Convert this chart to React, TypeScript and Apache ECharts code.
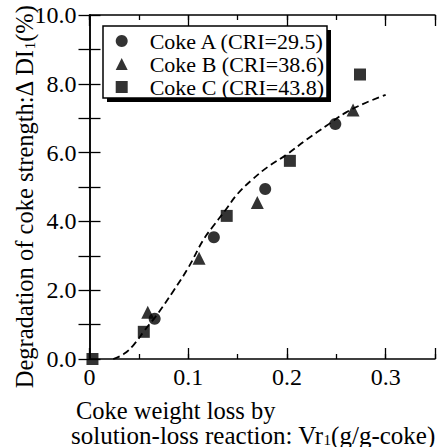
import React, { useEffect, useRef } from "react";
import * as echarts from "echarts";

const seriesNames = ["Coke A (CRI=29.5)", "Coke B (CRI=38.6)", "Coke C (CRI=43.8)"];
const cokeA = [[0.066, 1.17], [0.126, 3.54], [0.178, 4.94], [0.249, 6.83]];
const cokeB = [[0.059, 1.36], [0.111, 2.93], [0.170, 4.55], [0.267, 7.24]];
const cokeC = [[0.003, 0], [0.055, 0.79], [0.139, 4.16], [0.203, 5.76], [0.274, 8.27]];
const trendX = [0.024, 0.035, 0.045, 0.056, 0.068, 0.085, 0.1, 0.115, 0.125, 0.137, 0.15, 0.165, 0.18, 0.2, 0.22, 0.24, 0.26, 0.28, 0.3];
const trendY = [0, 0.15, 0.42, 0.84, 1.27, 1.98, 2.65, 3.45, 3.85, 4.3, 4.8, 5.22, 5.57, 5.95, 6.38, 6.78, 7.17, 7.45, 7.68];

const FONT = "'Liberation Serif', 'DejaVu Serif', serif";

export default function App() {
  const ref = useRef<HTMLDivElement>(null);
  useEffect(() => {
    if (!ref.current) return;
    const chart = echarts.init(ref.current, null, { renderer: "svg" });
    const axisLine = { show: true, lineStyle: { color: "#000", width: 1.5 } };
    const tickStyle = { color: "#000", width: 1.3 };
    const xBase = { type: "value", min: 0, max: 0.35, splitLine: { show: false }, gridIndex: 0 };
    const yBase = { type: "value", min: 0, max: 10, interval: 1, splitLine: { show: false }, gridIndex: 0 };
    chart.setOption({
      animation: false,
      backgroundColor: "#fff",
      grid: { left: 89.5, right: 6, top: 15, bottom: 88, containLabel: false },
      xAxis: [
        {
          ...xBase, position: "bottom", interval: 0.05,
          axisLine, axisTick: { show: true, inside: true, length: 5, lineStyle: tickStyle },
          axisLabel: {
            show: true, margin: 6, color: "#000", fontSize: 24, fontFamily: FONT,
            formatter: (v: number) => {
              const r = Math.round(v * 100);
              if (r % 10 !== 0) return "";
              return r === 0 ? "0" : (r / 100).toFixed(1);
            },
          },
        },
        {
          ...xBase, position: "bottom", interval: 0.1,
          axisLine: { show: false }, axisTick: { show: true, inside: true, length: 11, lineStyle: tickStyle },
          axisLabel: { show: false },
        },
        {
          ...xBase, position: "top", interval: 0.05,
          axisLine, axisTick: { show: true, inside: true, length: 5, lineStyle: tickStyle },
          axisLabel: { show: false },
        },
        {
          ...xBase, position: "top", interval: 0.1,
          axisLine: { show: false }, axisTick: { show: true, inside: true, length: 11, lineStyle: tickStyle },
          axisLabel: { show: false },
        },
      ],
      yAxis: [
        {
          ...yBase, position: "left",
          axisLine, axisTick: { show: true, inside: true, length: 11, lineStyle: tickStyle },
          axisLabel: {
            show: true, margin: 13, color: "#000", fontSize: 24, fontFamily: FONT,
            formatter: (v: number) => (Math.round(v) % 2 === 0 ? v.toFixed(1) : ""),
          },
        },
        {
          ...yBase, position: "right",
          axisLine, axisTick: { show: true, inside: true, length: 11, lineStyle: tickStyle },
          axisLabel: { show: false },
        },
      ],
      legend: {
        data: seriesNames,
        orient: "vertical",
        left: 115.7,
        top: 30,
        padding: 0,
        itemWidth: 12,
        itemHeight: 12,
        itemGap: 1,
        z: 10,
        textStyle: { fontSize: 22, lineHeight: 21, fontFamily: FONT, color: "#000", padding: [0, 0, 0, 17] },
      },
      graphic: [
        { type: "rect", z: 5, shape: { x: 107, y: 30, width: 224, height: 72 }, style: { fill: "#000" } },
        { type: "rect", z: 6, shape: { x: 103, y: 26, width: 224, height: 72 }, style: { fill: "#fff", stroke: "#000", lineWidth: 1.5 } },
        {
          type: "text", z: 6, x: 24, y: 197, rotation: Math.PI / 2,
          style: {
            text: "Degradation of coke strength:Δ DI{s|1}(%)",
            fontSize: 24.5, fontFamily: FONT, fill: "#000", align: "center", verticalAlign: "middle",
            rich: { s: { fontSize: 15, fontFamily: FONT, fill: "#000", lineHeight: 15, padding: [11, 0, 0, 0] } },
          },
        },
        {
          type: "text", z: 6, x: 76, y: 410,
          style: { text: "Coke weight loss by", fontSize: 24.5, fontFamily: FONT, fill: "#000", align: "left", verticalAlign: "middle" },
        },
        {
          type: "text", z: 6, x: 71, y: 435,
          style: {
            text: "solution-loss reaction: Vr{s|1}(g/g-coke)",
            fontSize: 25, fontFamily: FONT, fill: "#000", align: "left", verticalAlign: "middle",
            rich: { s: { fontSize: 15, fontFamily: FONT, fill: "#000", lineHeight: 15, padding: [10, 0, 0, 0] } },
          },
        },
      ],
      series: [
        {
          name: "trend", type: "line", xAxisIndex: 0, yAxisIndex: 0,
          data: trendX.map((x, i) => [x, trendY[i]]),
          smooth: 0.4, showSymbol: false, symbol: "none",
          lineStyle: { color: "#000", width: 1.8, type: [7, 4] },
          z: 2,
        },
        {
          name: seriesNames[0], type: "scatter", xAxisIndex: 0, yAxisIndex: 0, data: cokeA,
          symbol: "circle", symbolSize: 12, itemStyle: { color: "#000" }, clip: false, z: 3,
        },
        {
          name: seriesNames[1], type: "scatter", xAxisIndex: 0, yAxisIndex: 0, data: cokeB,
          symbol: "triangle", symbolSize: 13, itemStyle: { color: "#000" }, clip: false, z: 3,
        },
        {
          name: seriesNames[2], type: "scatter", xAxisIndex: 0, yAxisIndex: 0, data: cokeC,
          symbol: "rect", symbolSize: 12, itemStyle: { color: "#000" }, clip: false, z: 3,
        },
      ],
    });
    return () => chart.dispose();
  }, []);
  return <div ref={ref} style={{ width: 441, height: 447, position: "absolute", left: 0, top: 0 }} />;
}
